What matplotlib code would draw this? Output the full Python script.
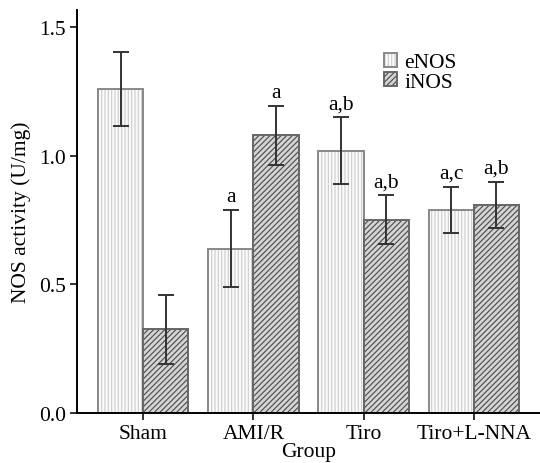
import matplotlib
matplotlib.use("Agg")
import matplotlib.pyplot as plt
import numpy as np

plt.rcParams['font.family'] = ['Liberation Serif', 'DejaVu Serif']
plt.rcParams['hatch.linewidth'] = 0.8

groups = ["Sham", "AMI/R", "Tiro", "Tiro+L-NNA"]
enos = [1.26, 0.64, 1.02, 0.79]
enos_err = [0.145, 0.15, 0.13, 0.09]
inos = [0.325, 1.08, 0.752, 0.81]
inos_err = [0.134, 0.115, 0.095, 0.09]
enos_lbl = ["", "a", "a,b", "a,c"]
inos_lbl = ["", "a", "a,b", "a,b"]

fig = plt.figure(figsize=(5.4, 4.64), dpi=100)
ax = fig.add_axes([77/540, 1-414/464, 1-77/540, (414-11)/464])

x = np.arange(len(groups))
w = 0.41
b1 = ax.bar(x - w/2, enos, w, facecolor='#fafafa', edgecolor='#888888',
            hatch='|||||', linewidth=1.4, label='eNOS')
b2 = ax.bar(x + w/2, inos, w, facecolor='#d4d4d4', edgecolor='#666666',
            hatch='//////', linewidth=1.4, label='iNOS')
for p in b2:
    p._hatch_color = matplotlib.colors.to_rgba('#4a4a4a')
for p in b1:
    p._hatch_color = matplotlib.colors.to_rgba('#cccccc')

ax.errorbar(x - w/2, enos, yerr=enos_err, fmt='none', ecolor='#333333',
            elinewidth=1.4, capsize=6, capthick=1.4)
ax.errorbar(x + w/2, inos, yerr=inos_err, fmt='none', ecolor='#333333',
            elinewidth=1.4, capsize=6, capthick=1.4)

fs = 15.5
for i in range(len(groups)):
    if enos_lbl[i]:
        ax.text(x[i] - w/2, enos[i] + enos_err[i] + 0.015, enos_lbl[i],
                ha='center', va='bottom', fontsize=fs)
    if inos_lbl[i]:
        ax.text(x[i] + w/2, inos[i] + inos_err[i] + 0.015, inos_lbl[i],
                ha='center', va='bottom', fontsize=fs)

ax.set_xlim(-0.6, 3.6)
ax.set_ylim(0, 1.568)
ax.set_yticks([0.0, 0.5, 1.0, 1.5])
ax.set_yticklabels(["0.0", "0.5", "1.0", "1.5"])
ax.set_xticks(x)
ax.set_xticklabels(groups)
ax.tick_params(axis='both', labelsize=fs, direction='out', length=5, width=1.3, color='#222222')
ax.tick_params(axis='x', pad=3)
ax.tick_params(axis='y', pad=3)
ax.spines['top'].set_visible(False)
ax.spines['right'].set_visible(False)
ax.spines['left'].set_linewidth(1.4)
ax.spines['bottom'].set_linewidth(1.4)
ax.set_ylabel("NOS activity (U/mg)", fontsize=fs, labelpad=6)
ax.set_xlabel("Group", fontsize=fs, labelpad=-1)

leg = ax.legend(loc='upper left', bbox_to_anchor=(0.64, 0.92), frameon=False,
                fontsize=fs, handlelength=0.6, handleheight=0.6,
                handletextpad=0.35, labelspacing=0.0, borderpad=0)

fig.savefig("out.png", dpi=100)
